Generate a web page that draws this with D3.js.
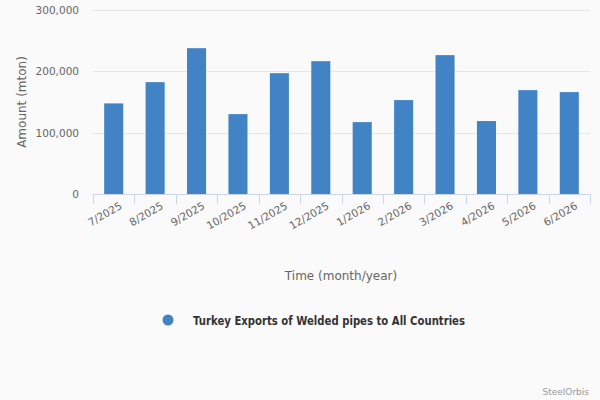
<!DOCTYPE html>
<html><head><meta charset="utf-8">
<script src="https://cdn.jsdelivr.net/npm/d3@7"></script>
<style>
html,body{margin:0;padding:0;background:#fafafa;}
svg{display:block;font-family:"DejaVu Sans",Verdana,sans-serif;}
</style></head>
<body>
<svg id="c" width="600" height="400"></svg>
<script>
const categories = ["7/2025","8/2025","9/2025","10/2025","11/2025","12/2025","1/2026","2/2026","3/2026","4/2026","5/2026","6/2026"];
const values = [147300,181900,237100,129900,196500,216000,116900,152700,225800,118600,168900,165700];
const yTicks = [0,100000,200000,300000];
const seriesName = "Turkey Exports of Welded pipes to All Countries";

(function(){
const svg = d3.select("#c");
svg.append("rect").attr("width",600).attr("height",400).attr("fill","#fafafa");
const pL = 93, pR = 590, pT = 9.5, pB = 194;
const x = d3.scaleBand().domain(categories).range([pL,pR]).paddingInner(0.54).paddingOuter(0.27);
const y = d3.scaleLinear().domain([0,300000]).range([pB,pT]);

// gridlines
svg.append("g").selectAll("line").data(yTicks.filter(d=>d>0)).join("line")
  .attr("x1",pL).attr("x2",pR)
  .attr("y1",d=>Math.round(y(d))+0.5).attr("y2",d=>Math.round(y(d))+0.5)
  .attr("stroke","#e6e6e6").attr("stroke-width",1);

// y labels
const fmt = d3.format(",");
svg.append("g").selectAll("text").data(yTicks).join("text")
  .attr("x",79).attr("y",d=>y(d)+4)
  .attr("text-anchor","end").attr("font-size",10.5).attr("fill","#666")
  .text(d=>fmt(d));

// bars
svg.append("g").selectAll("rect").data(values).join("rect")
  .attr("x",(d,i)=>x(categories[i])).attr("width",x.bandwidth())
  .attr("y",d=>y(d)).attr("height",d=>pB-y(d))
  .attr("fill","#4183c4");

// x axis line and ticks
const band = (pR-pL)/categories.length;
svg.append("line").attr("x1",pL).attr("x2",pR).attr("y1",pB+0.5).attr("y2",pB+0.5).attr("stroke","#ccd6eb");
const tickPos = d3.range(categories.length+1).map(i=>pL+i*band);
svg.append("g").selectAll("line").data(tickPos).join("line")
  .attr("x1",d=>Math.round(d)+0.5).attr("x2",d=>Math.round(d)+0.5)
  .attr("y1",pB).attr("y2",pB+10).attr("stroke","#ccd6eb");

// x labels
svg.append("g").selectAll("text").data(categories).join("text")
  .attr("transform",d=>`translate(${x(d)+x.bandwidth()/2+9},${pB+14}) rotate(-30)`)
  .attr("text-anchor","end").attr("font-size",10.5).attr("fill","#666")
  .text(d=>d);

// axis titles
svg.append("text").attr("x",341).attr("y",280).attr("text-anchor","middle")
  .attr("font-size",12).attr("fill","#666").text("Time (month/year)");
svg.append("text").attr("transform","translate(26,102) rotate(-90)").attr("text-anchor","middle")
  .attr("font-size",12).attr("fill","#666").text("Amount (mton)");

// legend
svg.append("circle").attr("cx",168).attr("cy",320).attr("r",5.5).attr("fill","#4183c4");
svg.append("text").attr("x",193).attr("y",324.5).attr("font-size",12.5).attr("font-weight","bold")
  .attr("fill","#333").attr("textLength",272).attr("lengthAdjust","spacingAndGlyphs").text(seriesName);

// credits
svg.append("text").attr("x",589).attr("y",395).attr("text-anchor","end")
  .attr("font-size",9).attr("fill","#999").text("SteelOrbis");
})();
</script>
</body></html>
